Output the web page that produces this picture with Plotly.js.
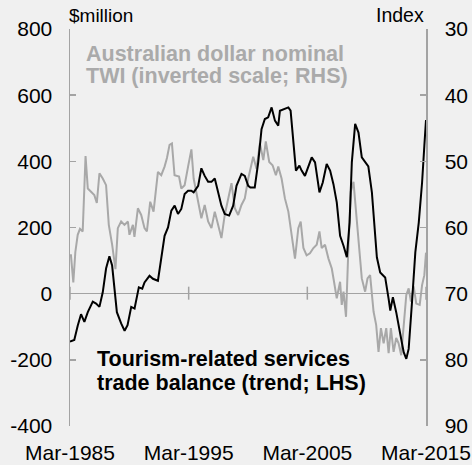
<!DOCTYPE html>
<html>
<head>
<meta charset="utf-8">
<script src="https://cdn.plot.ly/plotly-3.0.1.min.js"></script>
<style>
html,body{margin:0;padding:0;background:#f0f0f0;}
#chart{width:472px;height:465px;}
</style>
</head>
<body>
<div id="chart"></div>
<script>
// Tourism-related services trade balance (trend; $million, LHS)
var tourismYear = [1985.17,1985.53,1985.82,1986.10,1986.38,1986.67,1987.09,1987.37,1987.65,1987.93,
1988.21,1988.49,1988.72,1988.91,1989.12,1989.48,1989.77,1990.02,1990.33,1990.61,
1990.97,1991.26,1991.45,1991.87,1992.16,1992.58,1992.86,1993.14,1993.43,1993.71,
1993.99,1994.27,1994.55,1994.83,1995.12,1995.39,1995.59,1995.97,1996.24,1996.52,
1996.81,1997.09,1997.37,1997.65,1997.93,1998.21,1998.58,1998.92,1999.20,1999.62,
1999.90,2000.19,2000.37,2000.74,2001.03,2001.31,2001.59,2001.87,2002.16,2002.44,
2002.72,2002.86,2003.28,2003.57,2003.76,2003.99,2004.21,2004.50,2004.69,2004.97,
2005.26,2005.54,2005.82,2006.19,2006.47,2006.80,2007.09,2007.37,2007.65,2007.93,
2008.22,2008.50,2008.73,2008.92,2009.20,2009.48,2009.76,2010.04,2010.31,2010.61,
2010.81,2011.03,2011.31,2011.73,2012.02,2012.16,2012.38,2012.66,2013.00,2013.29,
2013.51,2013.71,2013.99,2014.27,2014.56,2014.84,2015.03,2015.17];
var tourismValue = [-145,-140,-97,-62,-85,-56,-24,-30,-40,4,
76,113,85,15,-56,-90,-112,-95,-40,-45,
19,15,34,54,45,39,115,175,200,251,
266,241,256,301,311,311,306,326,379,356,
338,338,348,306,266,241,236,266,326,362,
356,326,321,321,397,497,528,533,563,523,
508,553,558,563,553,467,372,387,372,356,
387,412,397,306,336,392,372,331,276,175,
145,110,215,397,513,487,412,400,385,306,
200,110,64,49,-16,-51,-11,-56,-122,-177,
-197,-167,-26,125,215,336,447,525];

// Australian dollar nominal TWI (index, inverted RHS)
var twiYear = [1985.17,1985.25,1985.45,1985.62,1985.82,1986.01,1986.24,1986.48,1986.67,1986.94,
1987.22,1987.43,1987.65,1987.93,1988.21,1988.44,1988.72,1989.00,1989.20,1989.48,
1989.76,1990.05,1990.18,1990.47,1990.60,1990.89,1991.17,1991.45,1991.65,1991.93,
1992.21,1992.58,1992.86,1993.14,1993.34,1993.56,1993.76,1993.98,1994.36,1994.55,
1994.83,1995.12,1995.40,1995.59,1995.82,1996.24,1996.52,1996.81,1997.09,1997.37,
1997.65,1997.93,1998.21,1998.50,1998.78,1999.06,1999.34,1999.62,1999.90,2000.19,
2000.32,2000.61,2000.89,2001.17,2001.46,2001.67,2001.96,2002.24,2002.52,2002.72,
2003.00,2003.28,2003.57,2003.85,2004.13,2004.41,2004.61,2004.84,2005.11,2005.39,
2005.68,2005.96,2006.19,2006.38,2006.66,2006.95,2007.23,2007.42,2007.65,2007.93,
2008.07,2008.22,2008.43,2008.64,2008.83,2009.06,2009.28,2009.57,2009.76,2010.04,
2010.24,2010.46,2010.56,2010.75,2010.97,2011.17,2011.37,2011.60,2011.82,2012.02,
2012.21,2012.44,2012.66,2012.86,2013.08,2013.29,2013.51,2013.71,2013.90,2014.13,
2014.35,2014.64,2014.84,2015.03,2015.17];
var twiValue = [64.2,64.2,68.3,63.7,61.1,60.2,60.6,49.2,54.1,54.6,
55.1,56.3,51.8,52.6,53.6,59.6,62.6,66.3,60.1,59.1,
59.6,59.1,61.1,59.6,61.4,57.1,58.1,60.1,60.6,56.1,
57.6,51.6,52.1,50.8,49.5,47.5,47.3,52.1,52.3,54.1,
53.6,50.8,48.2,52.6,54.6,58.6,56.6,59.1,60.1,57.6,
59.6,61.6,58.1,55.6,53.3,57.1,58.1,56.6,55.6,52.6,
51.6,49.3,51.1,47.3,49.8,47.0,50.1,50.6,52.1,50.8,
52.6,55.6,57.6,61.1,64.7,60.1,59.1,63.1,64.2,63.9,
63.1,62.6,60.6,63.1,62.6,64.7,66.2,68.2,70.7,68.2,
71.7,69.7,73.5,62.6,54.6,53.1,57.6,63.1,67.7,69.7,
67.7,67.2,69.5,72.7,74.7,78.8,75.2,77.5,75.2,79.0,
75.2,78.8,76.7,77.5,79.3,75.2,70.2,69.2,71.2,68.9,
71.5,71.7,68.7,67.2,63.8];

var xTickVals = [1985.17,1995.17,2005.17,2015.17];
var xTickText = ['Mar-1985','Mar-1995','Mar-2005','Mar-2015'];
var leftTicks = [-400,-200,0,200,400,600,800];
var leftTickText = ['-400','-200','0','200','400','600','800'];
var rightTicks = [30,40,50,60,70,80,90];

var FONT = 'Liberation Sans, Arial, sans-serif';
var AXIS_GREY = '#a3a3a3';
var LINE_GREY = '#a8a8a8';
var xRange = [1985.17, 2015.17];

var traces = [
  {x: twiYear, y: twiValue, xaxis: 'x', yaxis: 'y', type: 'scatter', mode: 'lines',
   line: {color: LINE_GREY, width: 2}, hoverinfo: 'skip'},
  {x: tourismYear, y: tourismValue, xaxis: 'x', yaxis: 'y2', type: 'scatter', mode: 'lines',
   line: {color: '#000000', width: 2}, hoverinfo: 'skip'}
];

// short ticks crossing the zero line (LHS) at each x tick value
var zeroLineTicks = xTickVals.map(function (v) {
  return {type: 'line', xref: 'x', yref: 'y2', x0: v, x1: v,
          ysizemode: 'pixel', yanchor: 0, y0: -6, y1: 7,
          line: {color: AXIS_GREY, width: 1.5}, layer: 'below'};
});

var layout = {
  width: 472, height: 465,
  margin: {l: 70, r: 46, t: 29, b: 39, pad: 0},
  paper_bgcolor: '#f0f0f0', plot_bgcolor: '#f0f0f0',
  showlegend: false,
  font: {family: FONT, size: 21, color: '#000000'},
  xaxis: {
    range: xRange, tickmode: 'array', tickvals: xTickVals, ticktext: xTickText,
    ticks: '', showline: false, showgrid: false, zeroline: false,
    tickfont: {family: FONT, size: 21, color: '#000000'}, ticklabelstandoff: 12
  },
  yaxis: {
    side: 'right', range: [90, 30], tickmode: 'array', tickvals: rightTicks,
    ticks: 'inside', ticklen: 6, tickwidth: 1.5, tickcolor: AXIS_GREY,
    showline: true, linecolor: AXIS_GREY, linewidth: 1.5,
    showgrid: false, zeroline: false,
    tickfont: {family: FONT, size: 21, color: '#000000'}, ticklabelstandoff: 13
  },
  yaxis2: {
    side: 'left', overlaying: 'y', anchor: 'x', range: [-400, 800],
    tickmode: 'array', tickvals: leftTicks, ticktext: leftTickText,
    ticks: 'inside', ticklen: 6, tickwidth: 1.5, tickcolor: AXIS_GREY,
    showline: true, linecolor: AXIS_GREY, linewidth: 1.5,
    showgrid: false, zeroline: true, zerolinecolor: AXIS_GREY, zerolinewidth: 1.5,
    tickfont: {family: FONT, size: 21, color: '#000000'}, ticklabelstandoff: 12
  },
  shapes: zeroLineTicks,
  annotations: [
    {text: '$million', xref: 'paper', yref: 'paper', x: -0.008, y: 1.035, xanchor: 'left', yanchor: 'middle',
     showarrow: false, font: {family: FONT, size: 19, color: '#000000'}},
    {text: 'Index', xref: 'paper', yref: 'paper', x: 1.0, y: 1.035, xanchor: 'right', yanchor: 'middle',
     showarrow: false, font: {family: FONT, size: 19.5, color: '#000000'}},
    {text: '<b>Australian dollar nominal</b>', xref: 'paper', yref: 'paper', x: 0.04, y: 0.937,
     xanchor: 'left', yanchor: 'middle', showarrow: false, font: {family: FONT, size: 21.5, color: '#aaaaaa'}},
    {text: '<b>TWI (inverted scale; RHS)</b>', xref: 'paper', yref: 'paper', x: 0.04, y: 0.881,
     xanchor: 'left', yanchor: 'middle', showarrow: false, font: {family: FONT, size: 21.5, color: '#aaaaaa'}},
    {text: '<b>Tourism-related services</b>', xref: 'paper', yref: 'paper', x: 0.07, y: 0.168,
     xanchor: 'left', yanchor: 'middle', showarrow: false, font: {family: FONT, size: 21.5, color: '#000000'}},
    {text: '<b>trade balance (trend; LHS)</b>', xref: 'paper', yref: 'paper', x: 0.07, y: 0.108,
     xanchor: 'left', yanchor: 'middle', showarrow: false, font: {family: FONT, size: 21.5, color: '#000000'}}
  ]
};

Plotly.newPlot('chart', traces, layout, {staticPlot: true, displayModeBar: false});
</script>
</body>
</html>
